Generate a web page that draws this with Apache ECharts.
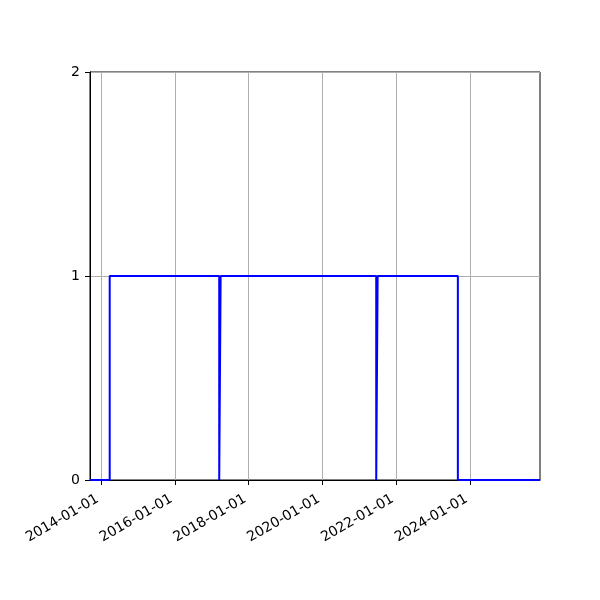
<!DOCTYPE html>
<html>
<head>
<meta charset="utf-8">
<script src="https://cdn.jsdelivr.net/npm/echarts@6/dist/echarts.min.js"></script>
<style>html,body{margin:0;padding:0;background:#fff}#c{width:600px;height:600px}</style>
</head>
<body>
<div id="c"></div>
<script>
const dates = ['2013-09-14','2014-03-28','2017-03-16','2017-03-30','2021-06-17','2021-07-01','2023-09-03','2025-11-24'];
const values = [0,1,0,1,0,1,0,0];
const xTicks = ['2014-01-01','2016-01-01','2018-01-01','2020-01-01','2022-01-01','2024-01-01'];
const xMin = '2013-09-14';
const xMax = '2025-11-24';
const yTicks = [0,1,2];

const ts = d => Date.parse(d + 'T00:00:00Z');
const pad = n => (n < 10 ? '0' : '') + n;
const fmt = v => { const d = new Date(v); return d.getUTCFullYear() + '-' + pad(d.getUTCMonth()+1) + '-' + pad(d.getUTCDate()); };

const chart = echarts.init(document.getElementById('c'));
const tickVals = xTicks.map(ts);
chart.setOption({
  animation: false,
  grid: {left: 90, right: 60, top: 72, bottom: 120, show: true, borderColor: '#000', borderWidth: 1, containLabel: false},
  xAxis: {
    type: 'value',
    min: ts(xMin),
    max: ts(xMax),
    axisLine: {show: true, onZero: false, lineStyle: {color: '#000', width: 1}},
    axisTick: {show: true, length: 5, inside: false, lineStyle: {color: '#000'}, customValues: tickVals},
    axisLabel: {
      customValues: tickVals,
      rotate: 30, margin: 16, color: '#000', fontSize: 14,
      padding: [0, 4, 0, 0],
      fontFamily: 'DejaVu Sans',
      formatter: v => fmt(v)
    },
    splitLine: {show: true, lineStyle: {color: '#b0b0b0', width: 1}}
  },
  yAxis: {
    type: 'value', min: yTicks[0], max: yTicks[yTicks.length-1], interval: 1,
    axisLine: {show: true, lineStyle: {color: '#000', width: 1}},
    axisTick: {show: true, length: 5, lineStyle: {color: '#000'}},
    axisLabel: {margin: 10, color: '#000', fontSize: 14, fontFamily: 'DejaVu Sans'},
    splitLine: {show: true, lineStyle: {color: '#b0b0b0', width: 1}}
  },
  series: [{
    type: 'line',
    step: 'end',
    symbol: 'none',
    data: dates.map((d, i) => [ts(d), values[i]]),
    lineStyle: {color: '#0000ff', width: 2},
    itemStyle: {color: '#0000ff'}
  }]
});
</script>
</body>
</html>
